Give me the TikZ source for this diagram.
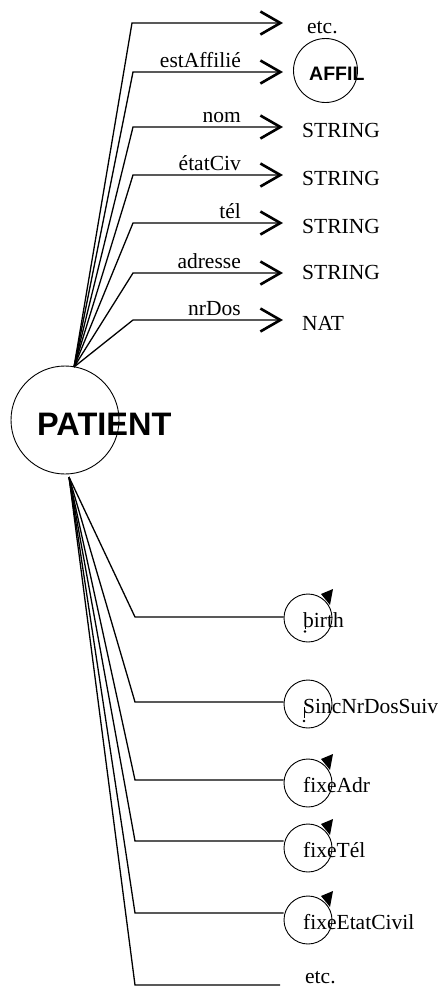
\documentclass[tikz,border=0pt]{standalone}
\usepackage{fontspec}
\setmainfont{Liberation Serif}
\newfontfamily\headfont{Liberation Sans}
\usetikzlibrary{arrows.meta}
\begin{document}
\begin{tikzpicture}[x=1pt,y=-1pt,
  conn/.style={line width=1.3pt},
  feat/.style={conn,-{Straight Barb[length=20pt,width=23pt,line width=2.6pt]}},
  txt/.style={inner sep=0pt,font=\fontsize{21.5}{24}\selectfont},
  lbl/.style={txt,anchor=base east},
  typ/.style={txt,anchor=base west},
  classname/.style={inner sep=0pt,anchor=base west,font=\headfont\bfseries\fontsize{#1}{#1}\selectfont},
  ring/.style={draw,circle,line width=0.9pt,inner sep=0pt,minimum size=#1},
  loopmark/.style={fill=black}
]
\useasboundingbox (0,0) rectangle (442,989);

% class PATIENT
\node[ring=108pt] (patient) at (65,420) {};
\node[classname=32.5] (patientname) at (37,435) {PATIENT};
\coordinate (top) at (74,367);
\coordinate (bot) at (69,477);

% attributes (top fan)
\coordinate (k0) at (132,23);
\coordinate (t0) at (283,23);
\draw[feat] (top) -- (k0) -- (t0);
\node[typ] (etcA) at (307,33) {etc.};

\foreach \i/\y/\lab in {1/72/estAffilié,2/127/nom,3/175/étatCiv,4/223/tél,5/273/adresse,6/320/nrDos}{
  \coordinate (k\i) at (133,\y);
  \coordinate (t\i) at (283,\y);
  \draw[feat] (top) -- (k\i) -- (t\i);
  \node[lbl] (l\i) at (241,\y-5) {\lab};
}

\node[ring=64pt] (affil) at (325.5,70.5) {};
\node[classname=19.5] (affilname) at (309,80) {AFFIL};
\node[typ] (s2) at (302,137) {STRING};
\node[typ] (s3) at (302,185) {STRING};
\node[typ] (s4) at (302,233) {STRING};
\node[typ] (s5) at (302,279) {STRING};
\node[typ] (nat) at (302,330) {NAT};

% operations (bottom fan)
\foreach \i/\y/\cy/\lab in {1/617/618/birth,2/702/704/SincNrDosSuiv,3/780/783/fixeAdr,4/841/848/fixeTél,5/913/920/fixeEtatCivil}{
  \node[ring=48pt] (m\i) at (308,\cy) {};
  \coordinate (b\i) at (135,\y);
  \draw[conn] (bot) -- (b\i) -- (b\i -| m\i.west);
  \node[typ] (n\i) at (303,\cy+9) {\lab};
}
\foreach \i in {1,3,4,5}{
  \fill[loopmark] ([shift={(13,-24)}]m\i.center) -- ([shift={(25,-29)}]m\i.center)
    -- ([shift={(22,-13)}]m\i.center) -- cycle;
}
% small ticks inside the first two operation circles
\draw[line width=0.8pt] (305,621) -- (305,629);
\fill (305,631.5) circle (1.3);
\draw[line width=0.8pt] (304,707) -- (304,718);
\fill (304,721) circle (1.3);

\coordinate (b6) at (135,985);
\coordinate (e6) at (280,985);
\draw[conn] (bot) -- (b6) -- (e6);
\node[typ] (etcB) at (305,983) {etc.};
\end{tikzpicture}
\end{document}
